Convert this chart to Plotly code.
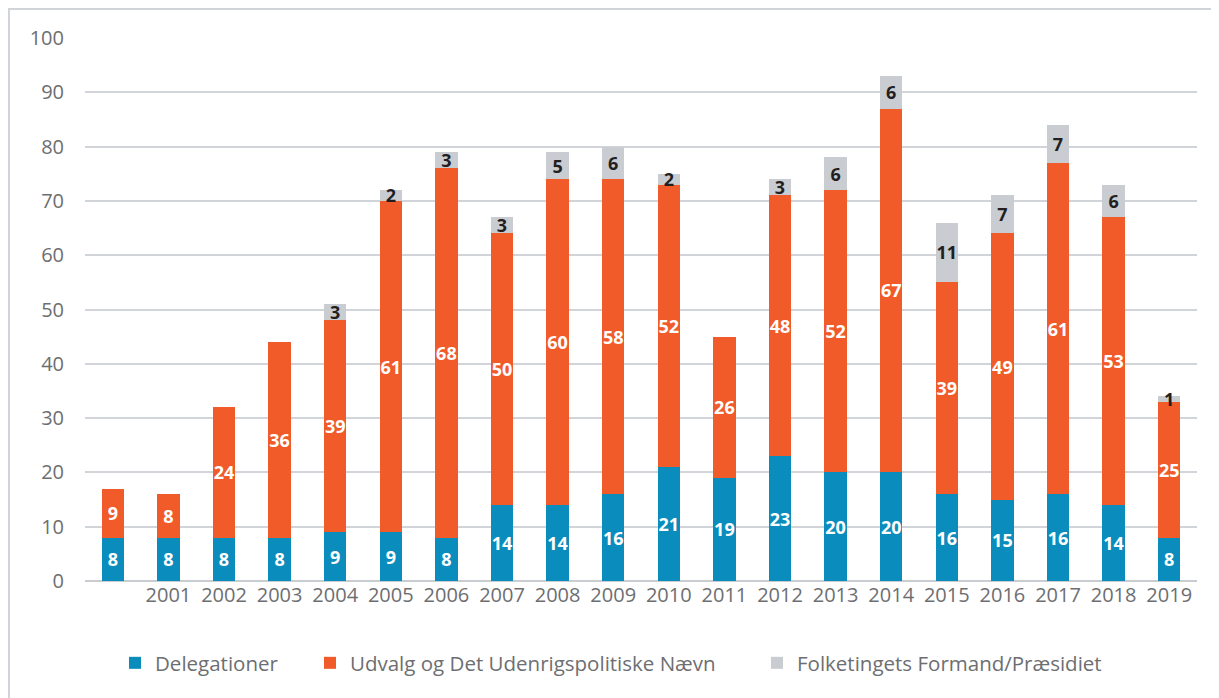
import plotly.graph_objects as go

years = [" ", "2001", "2002", "2003", "2004", "2005", "2006", "2007", "2008", "2009",
         "2010", "2011", "2012", "2013", "2014", "2015", "2016", "2017", "2018", "2019"]
delegationer = [8, 8, 8, 8, 9, 9, 8, 14, 14, 16, 21, 19, 23, 20, 20, 16, 15, 16, 14, 8]
udvalg = [9, 8, 24, 36, 39, 61, 68, 50, 60, 58, 52, 26, 48, 52, 67, 39, 49, 61, 53, 25]
formand = [0, 0, 0, 0, 3, 2, 3, 3, 5, 6, 2, 0, 3, 6, 6, 11, 7, 7, 6, 1]

names = ["Delegationer", "Udvalg og Det Udenrigspolitiske Nævn", "Folketingets Formand/Præsidiet"]
colors = ["#0a8cbd", "#f15a29", "#c9ccd1"]
text_colors = ["white", "white", "#231f20"]
legend_ids = ["legend", "legend2", "legend3"]

FONT = "Open Sans"
GREY = "#6d6e71"

# page has an 8px body margin; figure coordinates are offset by it
W, H = 1211, 690
L, T = 77, 30
PR, PB = 1189, 573
R, B = W - PR, H - PB
pw, ph = PR - L, PB - T

fig = go.Figure()
for vals, name, col, tcol, lg in zip([delegationer, udvalg, formand], names, colors, text_colors, legend_ids):
    fig.add_trace(go.Bar(
        x=years, y=vals, name=name, marker=dict(color=col, line=dict(width=0)),
        text=[str(v) if v else "" for v in vals],
        textposition="inside", insidetextanchor="middle", textangle=0,
        textfont=dict(family=FONT, size=18, color=tcol, weight="bold"),
        constraintext="none", cliponaxis=False,
        hoverinfo="skip", legend=lg,
    ))

leg_common = dict(orientation="h", xanchor="left", y=-82 / ph, yanchor="middle",
                  font=dict(family=FONT, size=20.5, color=GREY), itemwidth=30,
                  bgcolor="rgba(0,0,0,0)")
legend_x = [(107 - L) / pw, (302 - L) / pw, (749 - L) / pw]

fig.update_layout(
    width=W, height=H, barmode="stack", bargap=0.6,
    paper_bgcolor="white", plot_bgcolor="white",
    margin=dict(l=L, r=R, t=T, b=B, autoexpand=False),
    uniformtext=dict(minsize=18, mode="show"),
    font=dict(family=FONT, color=GREY, size=20),
    xaxis=dict(showgrid=False, showline=False, ticks="", tickfont=dict(size=20, color=GREY)),
    yaxis=dict(range=[0, 100], dtick=10, showgrid=True, gridcolor="#d1d4d8", gridwidth=1.5,
               zeroline=True, zerolinecolor="#c9ccd1", zerolinewidth=2,
               ticklabelstandoff=20, tickfont=dict(size=20, color=GREY)),
    legend=dict(x=legend_x[0], **leg_common),
    legend2=dict(x=legend_x[1], **leg_common),
    legend3=dict(x=legend_x[2], **leg_common),
    showlegend=True,
    shapes=[dict(type="rect", xref="paper", yref="paper",
                 x0=(1 - L) / pw, x1=1.2, y0=-0.4, y1=1 + (T - 1) / ph,
                 line=dict(color="#d1d4d8", width=2), layer="below")],
)
fig.write_html("out.html")
